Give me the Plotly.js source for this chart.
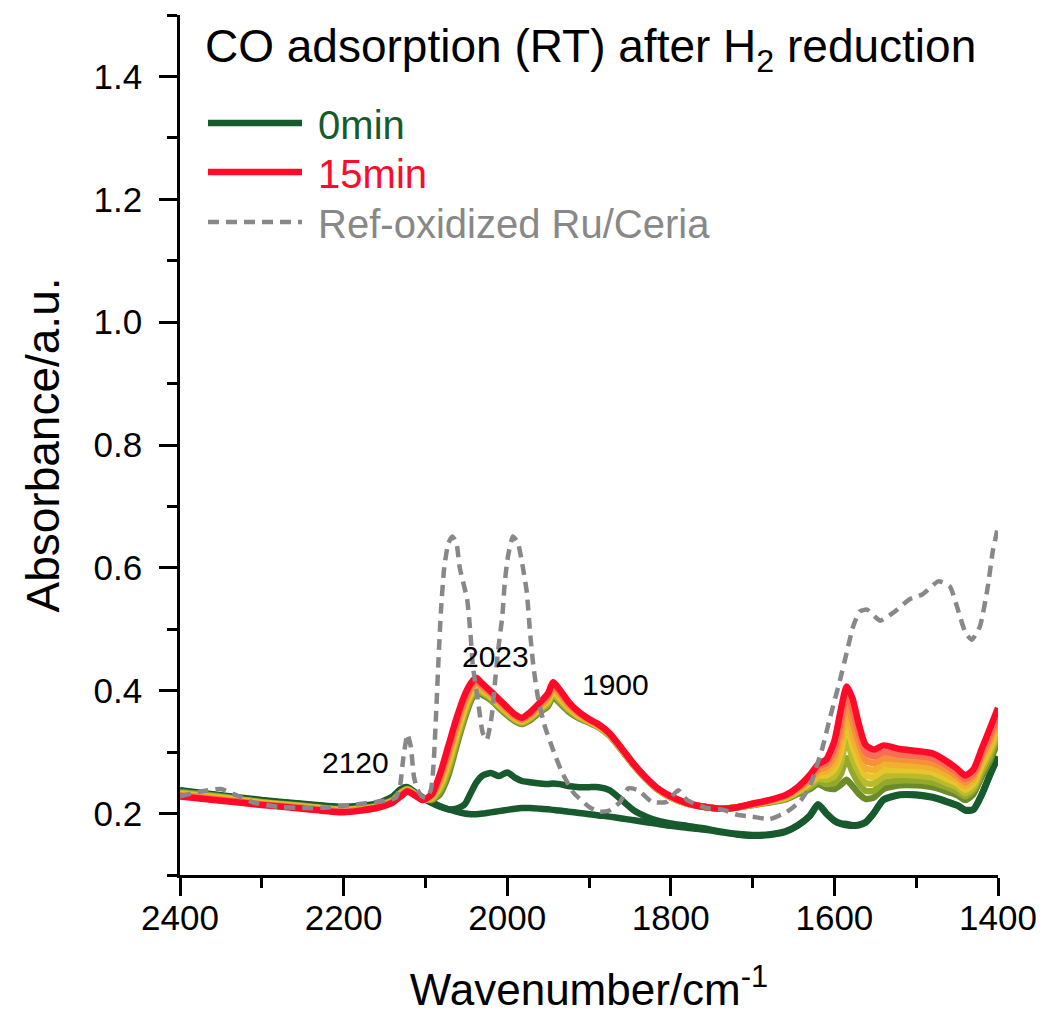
<!DOCTYPE html>
<html>
<head>
<meta charset="utf-8">
<script src="https://cdn.plot.ly/plotly-3.0.1.min.js"></script>
<style>
  html, body { margin: 0; padding: 0; background: #ffffff; }
  #chart { width: 1043px; height: 1014px; }
</style>
</head>
<body>
<div id="chart"></div>
<script>
// ---- data ----
const wavenumber = [2400, 2350, 2300, 2250, 2200, 2160, 2140, 2130, 2122, 2112, 2103, 2092, 2082, 2072, 2062, 2052, 2044, 2038, 2030, 2020, 2010, 2000, 1990, 1982, 1972, 1960, 1950, 1944, 1936, 1925, 1912, 1900, 1888, 1875, 1860, 1845, 1830, 1815, 1800, 1780, 1760, 1740, 1720, 1700, 1680, 1660, 1645, 1630, 1620, 1610, 1600, 1592, 1585, 1578, 1570, 1562, 1552, 1540, 1520, 1500, 1480, 1465, 1450, 1440, 1430, 1420, 1410, 1400];

const abs0min  = [.238, .230, .222, .216, .211, .216, .228, .240, .243, .234, .226, .218, .212, .207, .203, .200, .199, .199, .200, .202, .204, .206, .208, .209, .209, .208, .207, .206, .205, .203, .201, .199, .197, .195, .192, .189, .186, .183, .180, .177, .174, .170, .166, .164, .165, .170, .180, .196, .214, .200, .188, .183, .181, .180, .181, .185, .200, .222, .230, .230, .226, .220, .213, .205, .206, .230, .262, .292];
const abs1min  = [.237, .229, .221, .215, .210, .215, .227, .239, .242, .233, .225, .217, .211, .207, .208, .215, .235, .250, .262, .266, .261, .267, .258, .253, .251, .249, .248, .249, .248, .245, .243, .243, .243, .238, .222, .205, .195, .188, .184, .180, .176, .171, .167, .165, .166, .171, .181, .197, .215, .201, .189, .184, .183, .181, .182, .186, .201, .223, .231, .231, .227, .221, .214, .206, .207, .231, .263, .293];
const abs2min  = [.235, .228, .219, .213, .207, .212, .222, .235, .240, .232, .224, .222, .232, .262, .310, .355, .385, .397, .393, .385, .372, .360, .350, .346, .352, .365, .375, .390, .380, .366, .355, .348, .340, .327, .303, .278, .256, .238, .226, .216, .211, .208, .210, .214, .218, .223, .232, .240, .248, .242, .240, .247, .255, .245, .232, .224, .226, .240, .246, .246, .243, .237, .230, .222, .232, .260, .285, .318];
const abs3min  = [.234, .227, .218, .212, .206, .212, .222, .234, .240, .232, .224, .223, .237, .269, .316, .360, .389, .400, .396, .387, .374, .362, .352, .347, .354, .367, .378, .393, .383, .368, .356, .349, .341, .328, .303, .278, .256, .238, .226, .216, .211, .208, .210, .214, .219, .224, .234, .243, .252, .248, .250, .265, .290, .268, .249, .237, .237, .250, .254, .254, .251, .244, .236, .228, .238, .266, .292, .326];
const abs5min  = [.233, .226, .218, .212, .206, .211, .221, .233, .239, .231, .224, .225, .242, .276, .323, .366, .393, .404, .398, .389, .376, .364, .353, .349, .356, .370, .381, .397, .386, .371, .358, .350, .341, .328, .304, .279, .257, .239, .227, .216, .211, .208, .210, .215, .219, .225, .235, .247, .257, .255, .261, .283, .322, .290, .266, .250, .249, .260, .263, .262, .259, .251, .243, .233, .243, .273, .299, .333];
const abs7min  = [.232, .225, .217, .211, .205, .211, .220, .232, .238, .231, .223, .226, .246, .283, .329, .371, .397, .407, .401, .391, .378, .366, .355, .350, .358, .372, .384, .400, .389, .373, .359, .351, .342, .329, .304, .279, .257, .239, .227, .216, .211, .208, .210, .215, .220, .226, .237, .250, .262, .262, .272, .300, .345, .310, .282, .262, .260, .270, .271, .270, .267, .258, .249, .239, .249, .279, .306, .341];
const abs9min  = [.231, .224, .216, .210, .204, .210, .220, .231, .238, .230, .223, .228, .251, .289, .336, .377, .401, .411, .403, .393, .380, .367, .356, .351, .359, .374, .387, .404, .393, .375, .361, .351, .343, .329, .305, .279, .257, .239, .227, .217, .211, .208, .210, .215, .220, .227, .238, .253, .266, .269, .283, .318, .365, .330, .298, .274, .271, .280, .279, .278, .274, .266, .255, .245, .255, .285, .313, .349];
const abs11min = [.230, .223, .215, .210, .204, .210, .219, .230, .237, .230, .223, .229, .256, .296, .342, .382, .405, .414, .406, .395, .382, .369, .358, .353, .361, .376, .390, .407, .396, .377, .362, .352, .344, .330, .305, .279, .257, .239, .227, .217, .211, .208, .210, .215, .221, .228, .240, .256, .271, .276, .293, .336, .382, .350, .314, .287, .282, .290, .288, .286, .282, .273, .261, .251, .261, .292, .320, .356];
const abs13min = [.229, .222, .215, .209, .203, .209, .219, .229, .237, .229, .222, .231, .260, .303, .349, .388, .409, .417, .408, .397, .384, .371, .359, .354, .363, .379, .393, .411, .399, .380, .364, .353, .344, .330, .306, .280, .258, .240, .228, .217, .211, .208, .210, .216, .221, .229, .241, .260, .276, .282, .305, .352, .395, .370, .330, .300, .293, .300, .296, .294, .290, .280, .267, .256, .266, .298, .327, .364];
const abs15min = [.228, .221, .214, .208, .202, .209, .218, .228, .236, .229, .222, .232, .265, .310, .355, .393, .413, .421, .411, .399, .386, .373, .361, .356, .365, .381, .396, .414, .402, .382, .365, .354, .345, .331, .306, .280, .258, .240, .228, .217, .211, .208, .210, .216, .222, .230, .243, .263, .280, .288, .318, .370, .407, .388, .345, .312, .304, .311, .305, .302, .298, .287, .273, .262, .272, .305, .338, .372];

const refWavenumber = [2400, 2375, 2350, 2335, 2310, 2280, 2250, 2220, 2190, 2160, 2145, 2136, 2131, 2127, 2122, 2118, 2114, 2110, 2104, 2098, 2093, 2090, 2087, 2084, 2081, 2077, 2072, 2067, 2062, 2058, 2049, 2045, 2042, 2036, 2030, 2025, 2019, 2015, 2011, 2006, 2003, 1999, 1993, 1987, 1981, 1976, 1972, 1968, 1962, 1954, 1944, 1933, 1919, 1899, 1887, 1875, 1862, 1852, 1840, 1823, 1805, 1791, 1780, 1756, 1736, 1719, 1700, 1679, 1658, 1642, 1630, 1621, 1615, 1605, 1593, 1585, 1577, 1569, 1560, 1550, 1544, 1528, 1508, 1492, 1473, 1459, 1449, 1440, 1432, 1422, 1413, 1406, 1400];
const refAbs = [.228, .236, .240, .232, .218, .211, .209, .210, .214, .219, .222, .226, .245, .290, .329, .310, .260, .240, .228, .226, .240, .280, .360, .450, .530, .600, .640, .651, .640, .600, .549, .494, .440, .386, .332, .320, .358, .413, .467, .521, .576, .619, .651, .641, .602, .560, .494, .440, .386, .342, .304, .267, .234, .210, .203, .205, .219, .241, .238, .219, .219, .238, .222, .209, .206, .198, .195, .191, .203, .220, .244, .280, .305, .358, .418, .462, .505, .529, .532, .520, .514, .527, .549, .557, .578, .570, .532, .495, .483, .505, .565, .630, .666];

const seriesNames  = ['0min', '1min', '2min', '3min', '5min', '7min', '9min', '11min', '13min', '15min'];
const seriesValues = [abs0min, abs1min, abs2min, abs3min, abs5min, abs7min, abs9min, abs11min, abs13min, abs15min];
const seriesColors = ['#175a2d', '#175a2d', '#6b8b2b', '#93a92e', '#b9bb2c', '#e6c52d', '#f1b02f', '#f49238', '#f86c58', '#ff0a28'];
const legendShown  = ['0min', '15min'];
const refName = 'Ref-oxidized Ru/Ceria';
const refColor = '#888888';

const peakLabels = ['2023', '1900', '2120'];
const peakLabelX = [2014, 1867, 2185];
const peakLabelY = [0.456, 0.41, 0.283];

// ---- traces ----
const FONT = 'Liberation Sans, Arial, Helvetica, sans-serif';
const NBSP = '\u00a0';
const legendOf = { '0min': 'legend', '15min': 'legend2' };
const traces = seriesNames.map((nm, i) => ({
  type: 'scatter',
  mode: 'lines',
  x: wavenumber,
  y: seriesValues[i],
  name: legendShown.includes(nm) ? NBSP + '<span style="color:' + seriesColors[i] + '">' + nm + '</span>' : nm,
  showlegend: legendShown.includes(nm),
  legend: legendOf[nm] || 'legend',
  line: { color: seriesColors[i], width: 6.5, shape: 'spline', smoothing: 0.6 },
  hoverinfo: 'x+y+name'
}));
traces.push({
  type: 'scatter',
  mode: 'lines',
  x: refWavenumber,
  y: refAbs,
  name: NBSP + '<span style="color:' + refColor + '">' + refName + '</span>',
  legend: 'legend3',
  line: { color: refColor, width: 4.5, dash: '11px,7px', shape: 'spline', smoothing: 0.5 }
});

const annotations = peakLabels.map((t, i) => ({
  x: peakLabelX[i], y: peakLabelY[i], xref: 'x', yref: 'y',
  text: t, showarrow: false,
  font: { family: FONT, size: 30, color: '#000000' },
  xanchor: 'center', yanchor: 'middle'
}));

function legendAt(centerPx) {
  return {
    x: 0.0281, xanchor: 'left',
    y: 1 - (centerPx - 15) / 860, yanchor: 'middle',
    bgcolor: 'rgba(0,0,0,0)',
    borderwidth: 0,
    itemwidth: 94,
    font: { family: FONT, size: 40 },
    traceorder: 'normal'
  };
}

const layout = {
  width: 1043,
  height: 1014,
  paper_bgcolor: '#ffffff',
  plot_bgcolor: '#ffffff',
  margin: { l: 180, r: 45, t: 15, b: 139 },
  font: { family: FONT, color: '#000000' },
  title: {
    text: 'CO adsorption (RT) after H<sub>2</sub> reduction',
    font: { family: FONT, size: 46, color: '#000000' },
    xref: 'container', yref: 'container',
    x: 205 / 1043, xanchor: 'left',
    y: 1 - 46 / 1014, yanchor: 'middle'
  },
  xaxis: {
    range: [2400, 1400],
    autorange: false,
    showgrid: false,
    zeroline: false,
    showline: true,
    linecolor: '#000000',
    linewidth: 2.7,
    ticks: 'outside',
    ticklen: 18,
    tickwidth: 2.7,
    tickcolor: '#000000',
    tick0: 2400,
    dtick: 200,
    ticklabelstandoff: -8,
    tickfont: { family: FONT, size: 35, color: '#000000' },
    minor: { dtick: 100, ticks: 'outside', ticklen: 10, tickwidth: 2.7, tickcolor: '#000000', showgrid: false },
    title: { text: 'Wavenumber/cm<sup>-1</sup>', font: { family: FONT, size: 44, color: '#000000' }, standoff: 44 }
  },
  yaxis: {
    range: [0.1, 1.5],
    autorange: false,
    showgrid: false,
    zeroline: false,
    showline: true,
    linecolor: '#000000',
    linewidth: 2.7,
    ticks: 'outside',
    ticklen: 18,
    tickwidth: 2.7,
    tickcolor: '#000000',
    tick0: 0,
    dtick: 0.2,
    tickformat: '.1f',
    ticklabelstandoff: 10,
    tickfont: { family: FONT, size: 35, color: '#000000' },
    minor: { dtick: 0.1, tick0: 0.1, ticks: 'outside', ticklen: 10, tickwidth: 2.7, tickcolor: '#000000', showgrid: false },
    title: { text: NBSP + NBSP + 'Absorbance/a.u.', font: { family: FONT, size: 46, color: '#000000' }, standoff: 20 }
  },
  legend: legendAt(123),
  legend2: legendAt(172),
  legend3: legendAt(222),
  showlegend: true,
  annotations: annotations
};

Plotly.newPlot('chart', traces, layout, { displayModeBar: false, responsive: false });
</script>
</body>
</html>
